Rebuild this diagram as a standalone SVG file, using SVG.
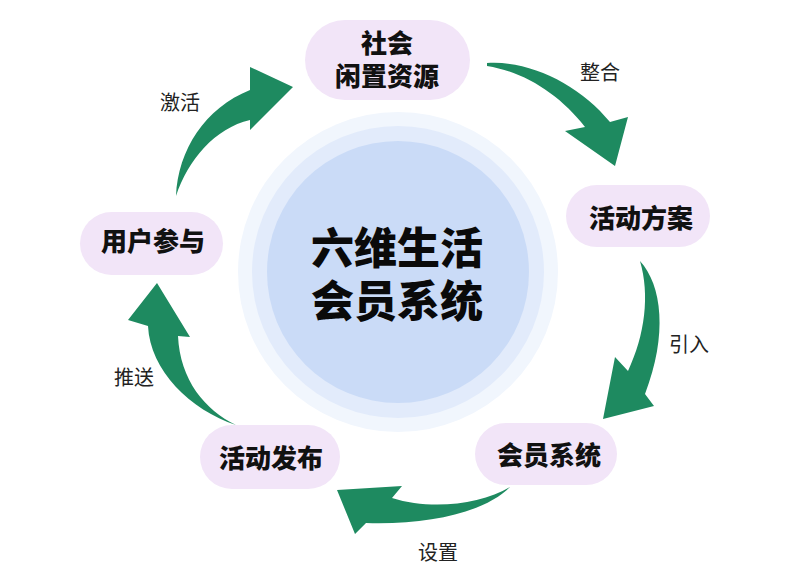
<svg xmlns="http://www.w3.org/2000/svg" width="811" height="582" viewBox="0 0 811 582">
<style>
.pill{fill:#f2e5f8}
.nt{font-family:"Noto Sans CJK SC","Noto Sans",sans-serif;font-weight:900;font-size:26px;fill:#111;text-anchor:middle}
.lb{font-family:"Noto Sans CJK SC","Noto Sans",sans-serif;font-size:20px;fill:#222;text-anchor:middle}
.ar{fill:#1e8a60}
</style>
<rect width="811" height="582" fill="#ffffff"/>
<g id="center">
<circle cx="398" cy="272" r="160" fill="#f1f6fd"/>
<circle cx="398" cy="272" r="146" fill="#e2ebfb"/>
<circle cx="398" cy="272" r="131" fill="#cadbf7"/>
<text x="397" y="264" font-family="'Noto Sans CJK SC',sans-serif" font-weight="900" font-size="43" text-anchor="middle" fill="#0a0a0a">六维生活</text>
<text x="397" y="317" font-family="'Noto Sans CJK SC',sans-serif" font-weight="900" font-size="43" text-anchor="middle" fill="#0a0a0a">会员系统</text>
</g>
<g id="node-resource">
<rect class="pill" x="305" y="20" width="165" height="80" rx="40"/>
<text class="nt" x="387" y="53">社会</text>
<text class="nt" x="387" y="86">闲置资源</text>
</g>
<g id="node-plan">
<rect class="pill" x="566" y="185" width="144" height="62" rx="31"/>
<text class="nt" x="641" y="228">活动方案</text>
</g>
<g id="node-member">
<rect class="pill" x="475" y="423" width="142" height="62" rx="31"/>
<text class="nt" x="549" y="465">会员系统</text>
</g>
<g id="node-publish">
<rect class="pill" x="200" y="425" width="140" height="64" rx="32"/>
<text class="nt" x="271" y="468">活动发布</text>
</g>
<g id="node-user">
<rect class="pill" x="80" y="212" width="143" height="63" rx="31.5"/>
<text class="nt" x="153" y="251">用户参与</text>
</g>
<g id="connectors">
<path class="ar" d="M487,63 C530,60 580,85 610,122 L628,117 L615,166 L565,131 L585,127 C560,95 525,72 487,66 Z"/>
<path class="ar" d="M640,261 C662,285 668,335 645,394 L654,406 L603,419 L615,357 L628,371 C645,335 650,295 640,261 Z"/>
<path class="ar" d="M510,487 C485,512 430,525 366,523 L355,534 L337,490 L402,486 L392,498 C430,510 480,505 510,487 Z"/>
<path class="ar" d="M236,425 C205,410 180,380 178,336 L190,337 L157,283 L128,320 L148,326 C150,370 190,410 236,425 Z"/>
<path class="ar" d="M176,196 C178,150 205,108 250,90 L250,67 L293,87 L250,130 L250,120 C215,128 188,160 176,196 Z"/>
<text class="lb" x="600" y="80">整合</text>
<text class="lb" x="689" y="352">引入</text>
<text class="lb" x="438" y="560">设置</text>
<text class="lb" x="134" y="385">推送</text>
<text class="lb" x="180" y="110">激活</text>
</g>
</svg>
